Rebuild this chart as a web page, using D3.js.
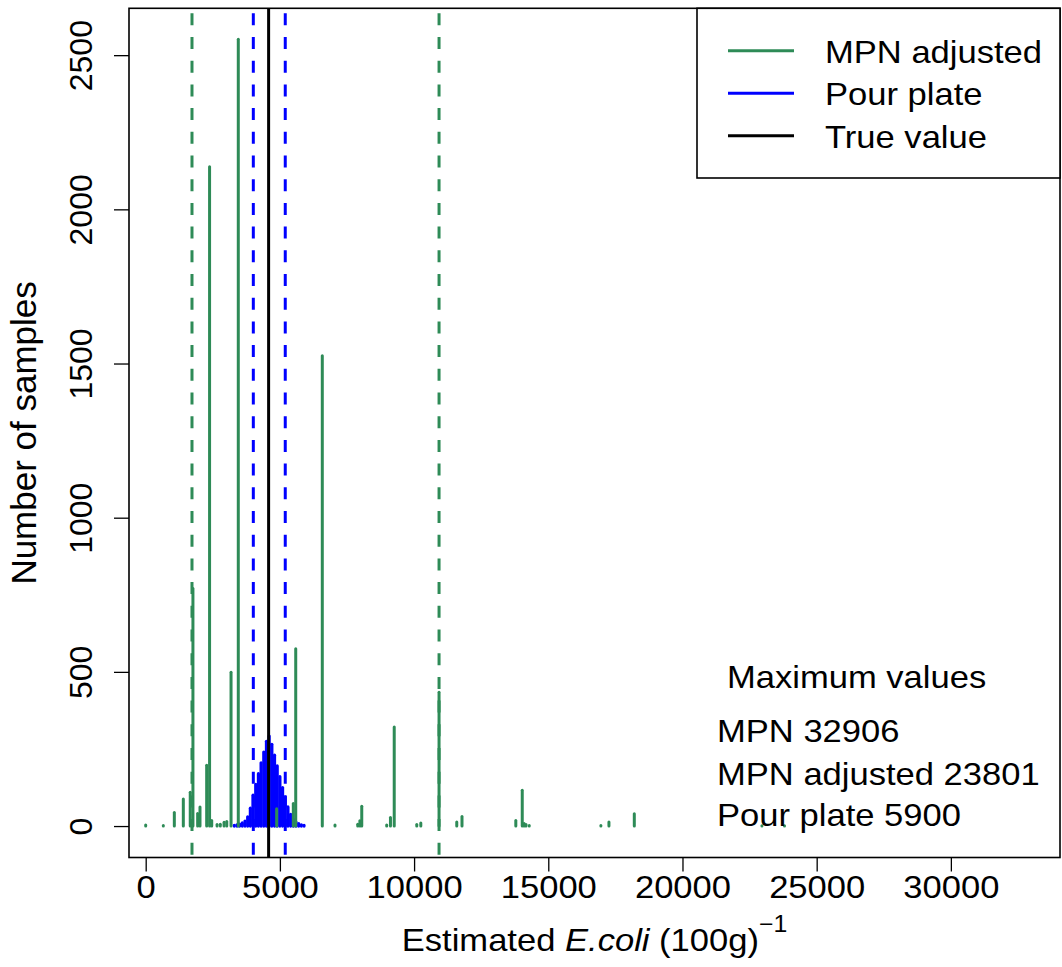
<!DOCTYPE html>
<html><head><meta charset="utf-8">
<script src="https://cdn.jsdelivr.net/npm/d3@7/dist/d3.min.js"></script>
<style>
body{margin:0;background:#fff}
text{font-family:"Liberation Sans",Arial,Helvetica,sans-serif;fill:#000}
</style>
</head><body>
<svg id="chart" width="1062" height="967"></svg>
<script>
// ---- data ----
const mpnValues = [0,656,1067,1402,1660,1760,1936,2023,2272,2380,2460,2660,2780,2920,3020,3180,3450,4880,5500,5590,6580,7053,7900,7980,8050,8980,9120,9260,10100,10250,10930,11590,11785,13790,14030,14100,14170,14290,16960,17260,18205,22960,23801];
const mpnCounts = [3,2,44,88,110,770,41,62,197,2138,18,5,6,12,15,499,2552,56,73,575,1525,3,6,17,64,3,28,321,5,10,434,13,31,18,116,8,5,2,2,13,40,1,1];
const pourValues = [3300,3400,3500,3600,3700,3800,3900,4000,4100,4200,4300,4400,4500,4600,4700,4800,4900,5000,5100,5200,5300,5400,5500,5600,5700,5800,5900];
const pourCounts = [2,4,6,10,16,30,58,100,135,170,205,240,275,292,265,230,195,160,125,95,62,38,22,13,8,4,2];
const trueValue = [4580];
const mpnInterval = [1725, 10930];
const pourInterval = [4010, 5200];
const xTicks = [0,5000,10000,15000,20000,25000,30000];
const yTicks = [0,500,1000,1500,2000,2500];
const xLim = [-622, 34066];
const yLim = [-102, 2652];
const legendLabels = ["MPN adjusted","Pour plate","True value"];
const legendColors = ["#2E8B57","#0000FF","#000000"];
const maxTitle = ["Maximum values"];
const maxLabels = ["MPN 32906","MPN adjusted 23801","Pour plate 5900"];

// ---- layout ----
const L = 129, R = 1060, T = 8.3, B = 857.5;
const SX = 1.08; // horizontal text stretch
const FS = 32;
const svg = d3.select("#chart");
const x = d3.scaleLinear().domain(xLim).range([L, R]);
const y = d3.scaleLinear().domain(yLim).range([B, T]);
const green = "#2E8B57", blue = "#0000FF";

svg.append("defs").append("clipPath").attr("id","clip")
  .append("rect").attr("x",L).attr("y",T).attr("width",R-L).attr("height",B-T);
const plot = svg.append("g").attr("clip-path","url(#clip)");

// pour plate spikes
plot.selectAll("line.pour").data(pourValues).join("line").attr("class","pour")
  .attr("x1",(d)=>x(d)).attr("x2",(d)=>x(d))
  .attr("y1",y(0)).attr("y2",(d,i)=>y(pourCounts[i]))
  .attr("stroke",blue).attr("stroke-width",3.2).attr("stroke-linecap","round");

// MPN adjusted spikes
plot.selectAll("line.mpn").data(mpnValues).join("line").attr("class","mpn")
  .attr("x1",(d)=>x(d)).attr("x2",(d)=>x(d))
  .attr("y1",y(0)).attr("y2",(d,i)=>y(mpnCounts[i]))
  .attr("stroke",green).attr("stroke-width",3).attr("stroke-linecap","round");

// interval lines
function vline(v,color,dashed){
  const ln = plot.append("line").attr("x1",x(v)).attr("x2",x(v))
    .attr("y1",T).attr("y2",B).attr("stroke",color).attr("stroke-width",3);
  if(dashed) ln.attr("stroke-dasharray","12 11.7").attr("stroke-dashoffset",18.7);
}
mpnInterval.forEach(v=>vline(v,green,true));
pourInterval.forEach(v=>vline(v,blue,true));
trueValue.forEach(v=>vline(v,"#000",false));

// box
svg.append("rect").attr("x",L).attr("y",T).attr("width",R-L).attr("height",B-T)
  .attr("fill","none").attr("stroke","#000").attr("stroke-width",1.6);

// x axis
const xa = svg.append("g").attr("transform",`translate(0,${B})`)
  .call(d3.axisBottom(x).tickValues(xTicks).tickSize(14).tickFormat(d3.format("d")));
xa.select(".domain").remove();
xa.selectAll(".tick line").attr("stroke","#000").attr("stroke-width",1.3);
xa.selectAll(".tick text").attr("y",0).attr("dy",null)
  .attr("transform","translate(0,40) scale("+SX+",1)")
  .attr("font-size",FS).attr("text-anchor","middle").attr("fill","#000");

// y axis
const ya = svg.append("g").attr("transform",`translate(${L},0)`)
  .call(d3.axisLeft(y).tickValues(yTicks).tickSize(15).tickFormat(d3.format("d")));
ya.select(".domain").remove();
ya.selectAll(".tick line").attr("stroke","#000").attr("stroke-width",1.3);
ya.selectAll(".tick text").attr("x",0).attr("dy",null)
  .attr("transform","translate(-37,0) rotate(-90)")
  .attr("font-size",32).attr("text-anchor","middle").attr("fill","#000");

function hText(px,py,str,size,anchor){
  return svg.append("text").attr("transform",`translate(${px},${py}) scale(${SX},1)`)
    .attr("font-size",size).attr("text-anchor",anchor||"start").text(str);
}

// axis titles
const xt = svg.append("text").attr("transform",`translate(${(L+R)/2},951) scale(${SX},1)`)
  .attr("font-size",FS).attr("text-anchor","middle");
xt.append("tspan").text("Estimated ");
xt.append("tspan").attr("font-style","italic").text("E.coli");
xt.append("tspan").text(" (100g)");
xt.append("tspan").attr("font-size",23).attr("dy",-19).text("\u22121");

svg.append("text").attr("transform",`translate(36,${(T+B)/2}) rotate(-90)`)
  .attr("font-size",35).attr("text-anchor","middle").text("Number of samples");

// legend
const lg = svg.append("g");
lg.append("rect").attr("x",697).attr("y",T).attr("width",R-697).attr("height",178-T)
  .attr("fill","#fff").attr("stroke","#000").attr("stroke-width",1.6);
const ly = [50.7, 93.3, 135.7];
legendLabels.forEach((lab,i)=>{
  lg.append("line").attr("x1",728).attr("x2",794).attr("y1",ly[i]).attr("y2",ly[i])
    .attr("stroke",legendColors[i]).attr("stroke-width",3);
  hText(825, ly[i]+12, lab, FS);
});

// max values annotation
hText(727, 688, maxTitle[0], FS);
const my = [742, 785, 826];
maxLabels.forEach((t,i)=>hText(717, my[i], t, FS));
</script>
</body></html>
